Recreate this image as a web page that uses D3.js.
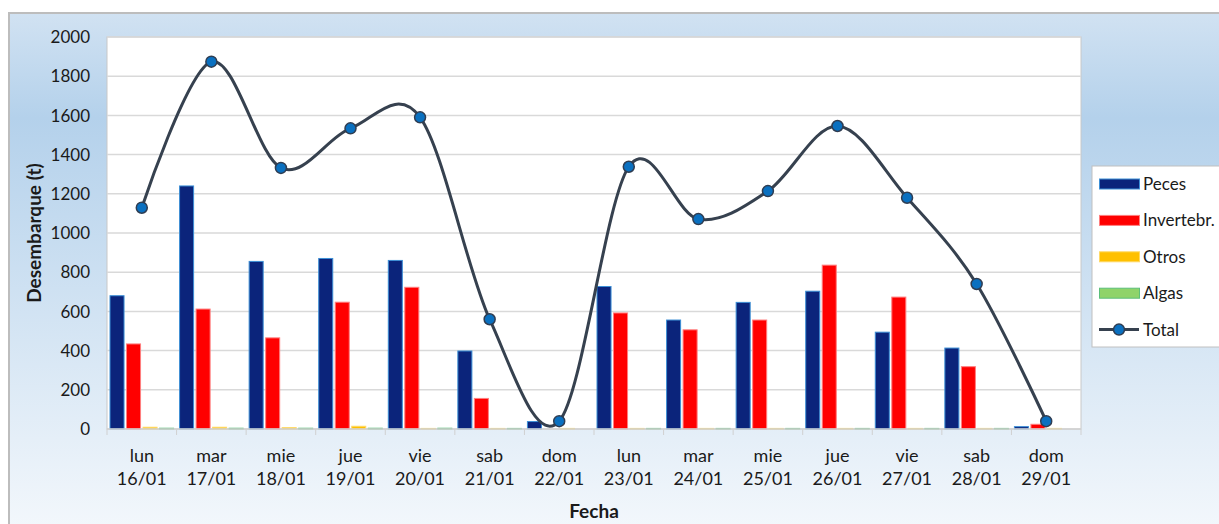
<!DOCTYPE html>
<html>
<head>
    <meta charset="utf-8">
    <script src="https://cdn.jsdelivr.net/npm/d3@7"></script>
    <style>
        body {
            margin: 0;
            background: white;
        }
        svg text {
            font-family: Lato, "Open Sans", sans-serif;
            fill: #1a1a1a;
        }
        .grid line {
            stroke: #d9d9d9;
            stroke-width: 1.5px;
        }
        .total-line {
            fill: none;
            stroke: #36414f;
            stroke-width: 3px;
        }
    </style>
</head>
<body>
<div id="chart"></div>
<script>
    // day names and dates (x axis, two lines)
    var days = ["lun", "mar", "mie", "jue", "vie", "sab", "dom", "lun", "mar", "mie", "jue", "vie", "sab", "dom"];
    var dates = ["16/01", "17/01", "18/01", "19/01", "20/01", "21/01", "22/01", "23/01", "24/01", "25/01", "26/01", "27/01", "28/01", "29/01"];
    // landings in tonnes
    var peces = [680, 1240, 855, 870, 860, 398, 38, 727, 556, 646, 703, 494, 413, 12];
    var invertebr = [434, 612, 465, 647, 723, 156, 0, 592, 506, 556, 836, 673, 318, 24];
    var otros = [9, 9, 7, 14, 3, 3, 3, 3, 3, 3, 3, 3, 3, 3];
    var algas = [4, 4, 4, 4, 4, 3, 0, 3, 3, 3, 3, 3, 3, 0];
    var total = [1129, 1874, 1332, 1534, 1590, 560, 40, 1338, 1071, 1214, 1546, 1180, 740, 40];
    var yTicks = [0, 200, 400, 600, 800, 1000, 1200, 1400, 1600, 1800, 2000];

    var seriesNames = ["Peces", "Invertebr.", "Otros", "Algas"];
    var seriesFill = ["#0b247b", "#ff0000", "#ffc000", "#8fd36a"];
    var seriesStroke = ["#3c8fd6", "#ff7f7f", "#ffd966", "#5cbf7a"];
    var seriesData = [peces, invertebr, otros, algas];

    var W = 1219, H = 524;
    var margin = {top: 37, right: 138, bottom: 95, left: 107},
        width = W - margin.left - margin.right,
        height = H - margin.top - margin.bottom;

    var svg = d3.select("#chart").append("svg")
        .attr("width", W)
        .attr("height", H);

    // background gradient of the chart frame
    var grad = svg.append("defs").append("linearGradient")
        .attr("id", "bg").attr("x1", 0).attr("y1", 0).attr("x2", 0).attr("y2", 1);
    grad.append("stop").attr("offset", "0%").attr("stop-color", "#d1e2f2");
    grad.append("stop").attr("offset", "20%").attr("stop-color", "#b4d1eb");
    grad.append("stop").attr("offset", "100%").attr("stop-color", "#f4f8fc");

    svg.append("rect")
        .attr("x", 9).attr("y", 13)
        .attr("width", W).attr("height", H)
        .attr("fill", "url(#bg)")
        .attr("stroke", "#bdbdbd")
        .attr("stroke-width", 2);

    var g = svg.append("g")
        .attr("transform", "translate(" + margin.left + "," + margin.top + ")");

    var idx = d3.range(days.length);
    var x0 = d3.scaleBand().domain(idx).range([0, width]).padding(0);
    var x1 = d3.scaleBand().domain(d3.range(4))
        .range([3, x0.bandwidth() - 3]).paddingInner(0.15).paddingOuter(0);
    var y = d3.scaleLinear().domain([0, 2000]).range([height, 0]);

    // plot area
    g.append("rect")
        .attr("width", width).attr("height", height)
        .attr("fill", "white")
        .attr("stroke", "#c8c8c8");

    // gridlines
    g.append("g").attr("class", "grid")
        .selectAll("line")
        .data(yTicks.filter(function (d) { return d > 0; }))
        .enter().append("line")
        .attr("x1", 0).attr("x2", width)
        .attr("y1", function (d) { return y(d); })
        .attr("y2", function (d) { return y(d); });

    // y axis labels
    g.append("g")
        .selectAll("text")
        .data(yTicks)
        .enter().append("text")
        .attr("x", -17)
        .attr("y", function (d) { return y(d); })
        .attr("dy", "0.36em")
        .attr("text-anchor", "end")
        .style("font-size", "17px")
        .text(function (d) { return d; });

    // bars (zero values are not drawn)
    seriesData.forEach(function (vals, s) {
        var pts = vals.map(function (v, i) { return {i: i, v: v}; })
            .filter(function (d) { return d.v > 0; });
        g.append("g")
            .selectAll("rect")
            .data(pts)
            .enter().append("rect")
            .attr("x", function (d) { return x0(d.i) + x1(s); })
            .attr("y", function (d) { return y(d.v); })
            .attr("width", x1.bandwidth())
            .attr("height", function (d) { return height - y(d.v); })
            .attr("fill", seriesFill[s])
            .attr("stroke", seriesStroke[s])
            .attr("stroke-width", 1);
    });

    // x axis line and ticks between categories
    g.append("line")
        .attr("x1", 0).attr("x2", width)
        .attr("y1", height).attr("y2", height)
        .attr("stroke", "#d0d0d0").attr("stroke-width", 1.5);
    g.append("g")
        .selectAll("line")
        .data(d3.range(days.length + 1))
        .enter().append("line")
        .attr("x1", function (d) { return d * x0.step(); })
        .attr("x2", function (d) { return d * x0.step(); })
        .attr("y1", height).attr("y2", height + 6)
        .attr("stroke", "#d0d0d0");

    // x labels
    var xl = g.append("g").selectAll("text")
        .data(idx)
        .enter().append("text")
        .attr("text-anchor", "middle")
        .style("font-size", "18px")
        .attr("transform", function (d) {
            return "translate(" + (x0(d) + x0.bandwidth() / 2) + "," + height + ")";
        });
    xl.append("tspan").attr("x", 0).attr("y", 33).text(function (d) { return days[d]; });
    xl.append("tspan").attr("x", 0).attr("y", 56).text(function (d) { return dates[d]; });

    // total smooth line
    var line = d3.line()
        .x(function (d, i) { return x0(i) + x0.bandwidth() / 2; })
        .y(function (d) { return y(d); })
        .curve(d3.curveCardinal.tension(0));
    g.append("path")
        .datum(total)
        .attr("class", "total-line")
        .attr("d", line);
    g.append("g")
        .selectAll("circle")
        .data(total)
        .enter().append("circle")
        .attr("cx", function (d, i) { return x0(i) + x0.bandwidth() / 2; })
        .attr("cy", function (d) { return y(d); })
        .attr("r", 5.5)
        .attr("fill", "#0a70c0")
        .attr("stroke", "#2f3d52")
        .attr("stroke-width", 1.5);

    // axis titles
    svg.append("text")
        .attr("x", margin.left + width / 2)
        .attr("y", 518)
        .attr("text-anchor", "middle")
        .style("font-size", "19px")
        .style("font-weight", "bold")
        .text("Fecha");
    svg.append("text")
        .attr("transform", "translate(41," + (margin.top + height / 2) + ") rotate(-90)")
        .attr("text-anchor", "middle")
        .style("font-size", "19px")
        .style("font-weight", "bold")
        .text("Desembarque (t)");

    // legend
    var legend = svg.append("g").attr("transform", "translate(1092,166)");
    legend.append("rect")
        .attr("width", 140).attr("height", 181)
        .attr("fill", "white")
        .attr("stroke", "#c0c0c0");
    var legendNames = seriesNames.concat(["Total"]);
    var item = legend.selectAll(".item")
        .data(legendNames)
        .enter().append("g")
        .attr("class", "item")
        .attr("transform", function (d, i) { return "translate(7," + (18 + i * 36.4) + ")"; });
    item.filter(function (d, i) { return i < 4; })
        .append("rect")
        .attr("x", 0.5).attr("y", -5)
        .attr("width", 40).attr("height", 10)
        .attr("fill", function (d) { return seriesFill[seriesNames.indexOf(d)]; })
        .attr("stroke", function (d) { return seriesStroke[seriesNames.indexOf(d)]; });
    var tot = item.filter(function (d) { return d === "Total"; });
    tot.append("line")
        .attr("x1", 0).attr("x2", 40)
        .attr("y1", 0).attr("y2", 0)
        .attr("stroke", "#36414f").attr("stroke-width", 3);
    tot.append("circle")
        .attr("cx", 20).attr("cy", 0).attr("r", 5.5)
        .attr("fill", "#0a70c0")
        .attr("stroke", "#2f3d52").attr("stroke-width", 1.5);
    item.append("text")
        .attr("x", 44).attr("y", 0)
        .attr("dy", "0.35em")
        .style("font-size", "17px")
        .text(function (d) { return d; });
</script>
</body>
</html>
